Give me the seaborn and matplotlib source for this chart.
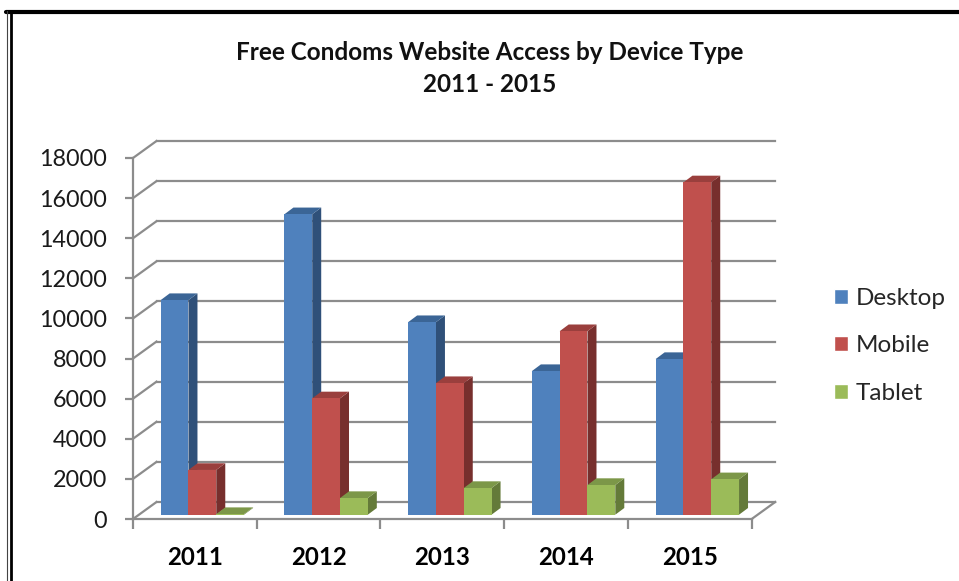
import matplotlib
matplotlib.use('Agg')
import matplotlib.pyplot as plt
from matplotlib.lines import Line2D
from matplotlib.patches import Polygon
import pandas as pd
import seaborn as sns

# 数据
years = ['2011', '2012', '2013', '2014', '2015']
desktop = [10700, 14980, 9600, 7160, 7760]
mobile = [2230, 5800, 6560, 9150, 16570]
tablet = [30, 830, 1330, 1480, 1765]
y_ticks = list(range(0, 18001, 2000))
devices = ['Desktop', 'Mobile', 'Tablet']

front_colors = ['#4f81bd', '#c0504d', '#9bbb59']
side_colors = ['#2f5079', '#772f2d', '#647a39']
top_colors = ['#3b6596', '#9a3f3d', '#7c9748']
grey = '#8c8c8c'

df = pd.DataFrame({
    'year': years * 3,
    'device': ['Desktop'] * 5 + ['Mobile'] * 5 + ['Tablet'] * 5,
    'visits': desktop + mobile + tablet,
})

W, H = 959, 581
sns.set_theme(style='white')
plt.rcParams['font.family'] = ['Lato', 'DejaVu Sans']

fig = plt.figure(figsize=(W / 100, H / 100), dpi=100, facecolor='white')


def px_axes(left, bottom_y, width, height):
    return fig.add_axes([left / W, 1 - bottom_y / H, width / W, height / H])


# 前面的坐标轴框，柱子放在稍微靠后的一层
frame = px_axes(133, 519, 618.7, 361)
ax = px_axes(140.5, 514.7, 618.7, 361)
frame.set_zorder(1)
ax.set_zorder(2)
ax.patch.set_visible(False)

x_px = 1 / 123.74
y_px = 18000 / 361

sns.barplot(data=df, x='year', y='visits', hue='device', hue_order=devices,
            palette=front_colors, saturation=1, width=0.674, gap=0,
            errorbar=None, ax=ax)
ax.set_xlim(-0.5, 4.5)
ax.set_ylim(0, 18000)

# 柱子的侧面和顶面
dx = 9 * x_px
dy = 6.7 * y_px
for i, bars in enumerate(ax.containers):
    for bar in bars:
        bar.set_zorder(3 + i)
        bar.set_linewidth(0)
        x0, w, h = bar.get_x(), bar.get_width(), bar.get_height()
        x1 = x0 + w
        ax.add_patch(Polygon([(x1, 0), (x1 + dx, dy), (x1 + dx, h + dy), (x1, h)],
                             fc=side_colors[i], lw=0, zorder=2.9 + i, clip_on=False))
        ax.add_patch(Polygon([(x0, h), (x0 + dx, h + dy), (x1 + dx, h + dy), (x1, h)],
                             fc=top_colors[i], lw=0, zorder=2.95 + i, clip_on=False))

handles, labels = ax.get_legend_handles_labels()
ax.legend(handles, labels, loc='center left', bbox_to_anchor=(834 / W, 1 - 346 / H),
          bbox_transform=fig.transFigure, frameon=False, fontsize=17.5,
          handlelength=0.58, handleheight=0.58, handletextpad=0.33, labelspacing=1.1,
          borderpad=0, borderaxespad=0)
ax.set_axis_off()

# 网格线和三维的墙
frame.set_xlim(-0.5, 4.5)
frame.set_ylim(0, 18000)
back_x = 23.5 * x_px
back_y = 17 * y_px
line = dict(color=grey, lw=1.6, clip_on=False, solid_capstyle='projecting')
for v in y_ticks:
    frame.plot([-0.5 + back_x, 4.5 + back_x], [v + back_y, v + back_y], **line)
    frame.plot([-0.5, -0.5 + back_x], [v, v + back_y], **line)
frame.plot([4.5, 4.5 + back_x], [0, back_y], **line)

for side in ['top', 'right']:
    frame.spines[side].set_visible(False)
for side in ['left', 'bottom']:
    frame.spines[side].set_color(grey)
    frame.spines[side].set_linewidth(1.6)

frame.set_yticks(y_ticks)
frame.set_xticks([i - 0.5 for i in range(6)])
frame.set_xticklabels([])
frame.set_xticks(range(5), labels=years, minor=True)
frame.tick_params(axis='y', which='major', length=5.8, width=1.6, color=grey, pad=13,
                  labelsize=16.8, labelcolor='#1a1a1a', left=True)
frame.tick_params(axis='x', which='major', length=7.5, width=1.6, color=grey, bottom=True)
frame.tick_params(axis='x', which='minor', length=0, pad=19.5, labelsize=17.3, labelcolor='black')
for t in frame.get_xticklabels(minor=True):
    t.set_fontweight('bold')

# 标题
title_font = dict(ha='center', va='center', fontsize=17.5, fontweight='bold', color='#111111')
fig.text(490 / W, 1 - 52 / H, 'Free Condoms Website Access by Device Type', **title_font)
fig.text(490 / W, 1 - 85 / H, '2011 - 2015', **title_font)

# 外边框
fig.add_artist(Line2D([6 / W, 1], [1 - 12 / H, 1 - 12 / H], color='black', lw=3))
fig.add_artist(Line2D([10.5 / W, 10.5 / W], [0, 1 - 12 / H], color='black', lw=2))
fig.add_artist(Line2D([7 / W, 7 / W], [0, 1 - 11 / H], color='#444444', lw=0.8))

fig.savefig('out.png', dpi=100)
